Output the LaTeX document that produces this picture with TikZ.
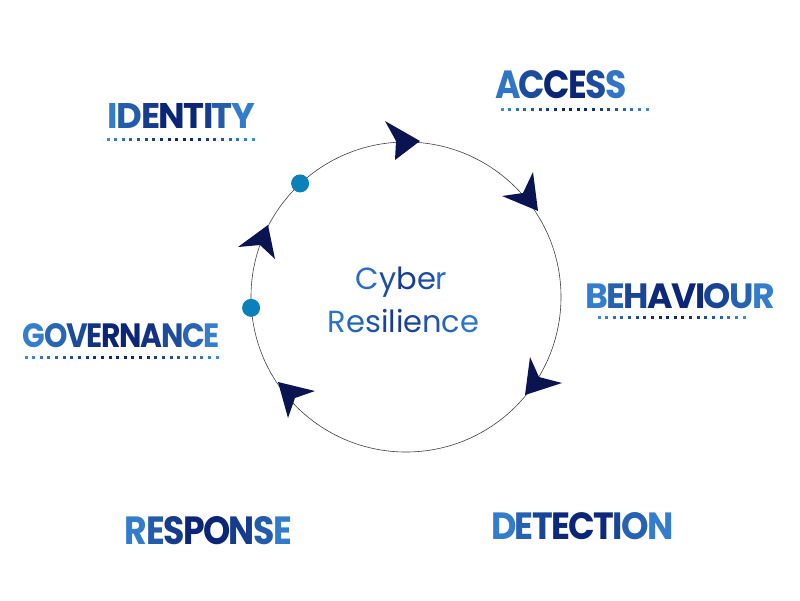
\documentclass[tikz,border=0pt]{standalone}
\usepackage{fontspec}
\usepackage{graphicx}
\setmainfont{Poppins}
\definecolor{glight}{HTML}{3A8ADA}
\definecolor{gnavy}{HTML}{0B2677}
\definecolor{clight}{HTML}{2E7BD2}
\definecolor{cnavy}{HTML}{163C93}
\definecolor{dartc}{HTML}{0A1450}
\definecolor{dotc}{HTML}{0B80B9}
\definecolor{ringc}{HTML}{404040}
\newcommand\gk{0pt}
% gradient word: #1 edge colour, #2 centre colour, #3 letter count, #4 letters
\newcommand\gw[4]{\foreach \lt [count=\i] in {#4}{\ifnum\i>1\kern\gk\fi\pgfmathtruncatemacro\p{min(100,125*(1-abs(2*(\i-0.5)/#3-1)))}\textcolor{#2!\p!#1}{\lt}}}
% boxed label: #1 width, #2 cap height, #3 count, #4 letters
\newcommand\lab[4]{\resizebox{#1pt}{#2pt}{\renewcommand\gk{-1.6pt}\bfseries\fontsize{36}{36}\selectfont\gw{glight}{gnavy}{#3}{#4}}}
% dotted underline: #1 x0, #2 x1, #3 y, #4 count
\newcommand\dotline[4]{\foreach \i in {0,...,\numexpr#4-1\relax}{\pgfmathsetmacro\xx{#1+(#2-#1)*\i/(#4-1)}\pgfmathtruncatemacro\p{min(100,125*(1-abs(2*\i/(#4-1)-1)))}\fill[gnavy!\p!glight] (\xx-1.5,#3-1.5) rectangle ++(3,3);}}
\begin{document}
\begin{tikzpicture}[x=1pt,y=-1pt,
  lbl/.style={anchor=base, inner sep=0pt},
  dotnode/.style={circle, fill=dotc, minimum size=18pt, inner sep=0pt},
  dart/.style={fill=dartc}]
\useasboundingbox[fill=white] (0,0) rectangle (800,600);
% ring
\node[draw=ringc, line width=0.6pt, circle, minimum size=310pt, inner sep=0pt] (ring) at (406,297) {};
% darts
\fill[dart] (420,141) -- (385,121) -- (396,141) -- (395,160) -- cycle;
\fill[dart] (538,211) -- (533,172) -- (523,193) -- (502,196) -- cycle;
\fill[dart] (525,395) -- (530,357) -- (539,377) -- (562,383) -- cycle;
\fill[dart] (278,382) -- (315,391) -- (295,398) -- (288,418) -- cycle;
\fill[dart] (268,225) -- (238,247) -- (260,245) -- (275,259) -- cycle;
% dots
\node[dotnode] (d1) at (ring.133) {};
\node[dotnode] (d2) at (ring.184) {};
% centre text
\node[lbl, font=\fontsize{30.5}{30.5}\selectfont] (cyber) at (401.5,289) {\gw{clight}{cnavy}{5}{C,y,b,e,r}};
\node[lbl, font=\fontsize{30.5}{30.5}\selectfont] (resil) at (403.5,332) {\gw{clight}{cnavy}{10}{R,e,s,i,l,i,e,n,c,e}};
% labels
\node[lbl] (identity) at (181.5,128) {\lab{147}{25}{8}{I,D,E,N,T,I,T,Y}};
\node[lbl] (access) at (561,98) {\lab{132}{28}{6}{A,C,C,E,S,S}};
\node[lbl] (behaviour) at (680,308) {\lab{190}{25}{9}{B,E,H,A,V,I,O,U,R}};
\node[lbl] (governance) at (121.5,347) {\lab{197}{24}{10}{G,O,V,E,R,N,A,N,C,E}};
\node[lbl] (response) at (208.5,544) {\lab{167}{28}{8}{R,E,S,P,O,N,S,E}};
\node[lbl] (detection) at (582.5,539) {\lab{183}{27}{9}{D,E,T,E,C,T,I,O,N}};
% underlines
\dotline{108}{253}{139}{20}
\dotline{502}{647}{109}{20}
\dotline{599}{744}{317}{20}
\dotline{26}{217}{357}{26}
\end{tikzpicture}
\end{document}
